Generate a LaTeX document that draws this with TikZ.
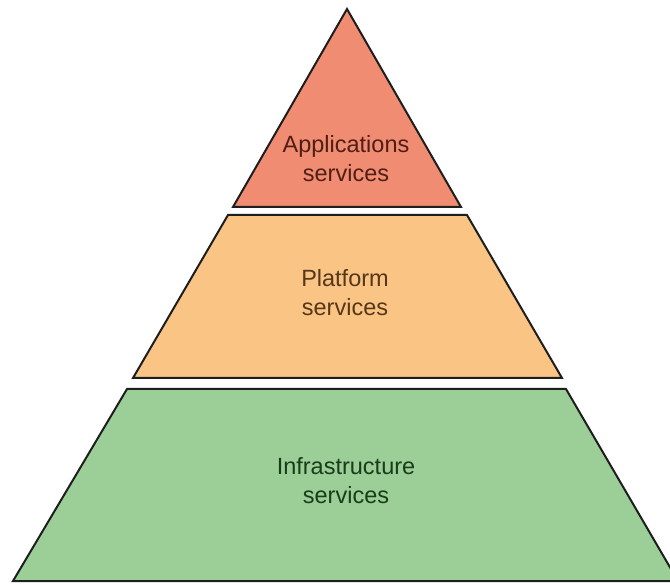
\documentclass[tikz,border=0pt]{standalone}
\usepackage{fontspec}
\setmainfont{Liberation Sans}
\definecolor{appfill}{RGB}{240,140,114}
\definecolor{platfill}{RGB}{250,196,132}
\definecolor{infrafill}{RGB}{156,206,152}
\definecolor{apptext}{RGB}{80,30,20}
\definecolor{plattext}{RGB}{85,55,25}
\definecolor{infratext}{RGB}{25,60,25}
\definecolor{edge}{RGB}{30,30,30}
\begin{document}
\begin{tikzpicture}[x=1pt,y=-1pt,
  layer/.style={draw=edge,line width=2pt,line join=miter},
  lbl/.style={align=center,font=\fontsize{23.5}{29}\selectfont,inner sep=0pt}]
\useasboundingbox[fill=white] (0,0) rectangle (670,585);
\begin{scope}
\clip (0,0) rectangle (670,585);
\filldraw[layer,fill=appfill] (347,9) -- (461,207) -- (233,207) -- cycle;
\filldraw[layer,fill=platfill] (228,215) -- (467,215) -- (562,378) -- (133,378) -- cycle;
\filldraw[layer,fill=infrafill] (127,389) -- (566,389) -- (678,581) -- (13,581) -- cycle;
\end{scope}
\node[lbl,text=apptext] (app) at (346,159) {Applications\\services};
\node[lbl,text=plattext] (plat) at (345,293) {Platform\\services};
\node[lbl,text=infratext] (infra) at (346,481) {Infrastructure\\services};
\end{tikzpicture}
\end{document}
